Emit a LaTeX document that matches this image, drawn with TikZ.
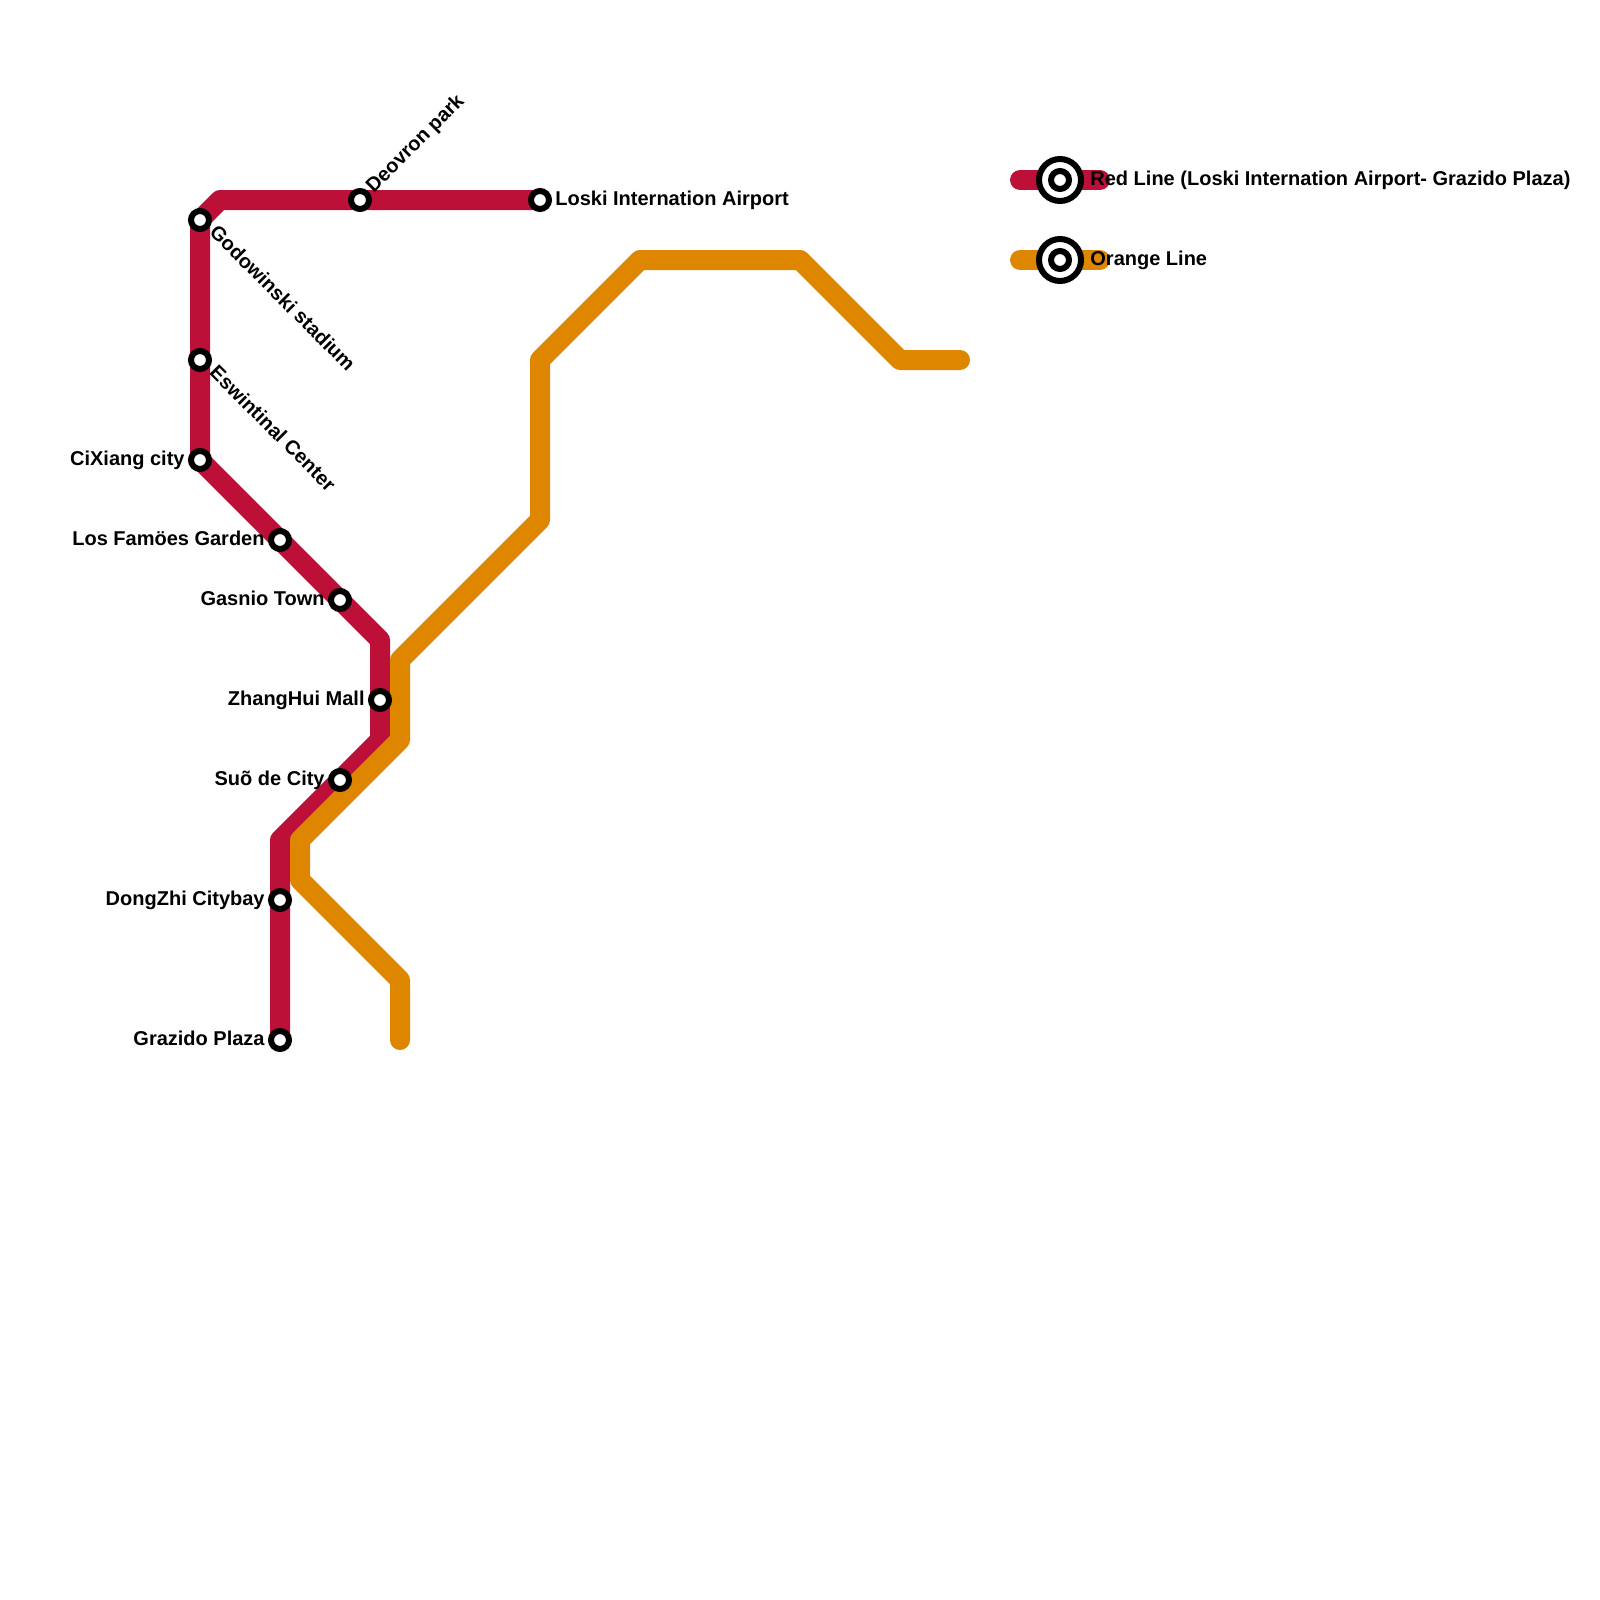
\documentclass[tikz,border=0pt]{standalone}
\usepackage{fontspec}
\setmainfont{Liberation Sans}
\definecolor{redline}{HTML}{BD1038}
\definecolor{orangeline}{HTML}{DF8600}
\tikzset{
  x=0.5pt,y=-0.5pt,
  metro/.style={line width=10pt,line join=round,line cap=round},
  stn/.style={circle,draw=black,fill=white,line width=3pt,minimum size=9pt,inner sep=0pt},
  legout/.style={circle,draw=black,fill=white,line width=3pt,minimum size=21pt,inner sep=0pt},
  lab/.style={font=\fontsize{10}{12}\selectfont\bfseries,text=black,inner sep=0pt,text height=7.2pt,text depth=2.1pt},
}
\begin{document}
\begin{tikzpicture}
\useasboundingbox (0,0) rectangle (1600,1600);
% red line waypoints
\coordinate (r1) at (540,200);
\coordinate (r2) at (220,200);
\coordinate (r3) at (200,220);
\coordinate (r4) at (200,460);
\coordinate (r5) at (380,640);
\coordinate (r6) at (380,740);
\coordinate (r7) at (280,840);
\coordinate (r8) at (280,1040);
% orange line waypoints
\coordinate (o1) at (400,1040);
\coordinate (o2) at (400,980);
\coordinate (o3) at (300,880);
\coordinate (o4) at (300,840);
\coordinate (o5) at (400,740);
\coordinate (o6) at (400,660);
\coordinate (o7) at (540,520);
\coordinate (o8) at (540,360);
\coordinate (o9) at (640,260);
\coordinate (o10) at (800,260);
\coordinate (o11) at (900,360);
\coordinate (o12) at (960,360);
% legend ends
\coordinate (lr1) at (1020,180);
\coordinate (lr2) at (1100,180);
\coordinate (lo1) at (1020,260);
\coordinate (lo2) at (1100,260);
\draw[metro,redline] (r1)--(r2)--(r3)--(r4)--(r5)--(r6)--(r7)--(r8);
\draw[metro,orangeline] (o1)--(o2)--(o3)--(o4)--(o5)--(o6)--(o7)--(o8)--(o9)--(o10)--(o11)--(o12);
\draw[metro,redline] (lr1)--(lr2);
\draw[metro,orangeline] (lo1)--(lo2);
% stations
\node[stn] (loski) at (540,200) {};
\node[stn] (deo) at (360,200) {};
\node[stn] (god) at (200,220) {};
\node[stn] (esw) at (200,360) {};
\node[stn] (cix) at (200,460) {};
\node[stn] (los) at (280,540) {};
\node[stn] (gas) at (340,600) {};
\node[stn] (zha) at (380,700) {};
\node[stn] (suo) at (340,780) {};
\node[stn] (don) at (280,900) {};
\node[stn] (gra) at (280,1040) {};
% legend stations
\node[legout] (lrout) at (1060,180) {};
\node[stn] (lrin) at (1060,180) {};
\node[legout] (loout) at (1060,260) {};
\node[stn] (loin) at (1060,260) {};
% labels
\node[lab,anchor=west] (tloski) at (555,200) {Loski Internation Airport};
\node[lab,anchor=west,rotate=45] (tdeo) at (370,190) {Deovron park};
\node[lab,anchor=west,rotate=-45] (tgod) at (212,230) {Godowinski stadium};
\node[lab,anchor=west,rotate=-45] (tesw) at (212,370) {Eswintinal Center};
\node[lab,anchor=east] (tcix) at (185,460) {CiXiang city};
\node[lab,anchor=east] (tlos) at (265,540) {Los Famöes Garden};
\node[lab,anchor=east] (tgas) at (325,600) {Gasnio Town};
\node[lab,anchor=east] (tzha) at (365,700) {ZhangHui Mall};
\node[lab,anchor=east] (tsuo) at (325,780) {Suõ de City};
\node[lab,anchor=east] (tdon) at (265,900) {DongZhi Citybay};
\node[lab,anchor=east] (tgra) at (265,1040) {Grazido Plaza};
\node[lab,anchor=west] (tlr) at (1090,180) {Red Line (Loski Internation Airport- Grazido Plaza)};
\node[lab,anchor=west] (tlo) at (1090,260) {Orange Line};
\end{tikzpicture}
\end{document}
